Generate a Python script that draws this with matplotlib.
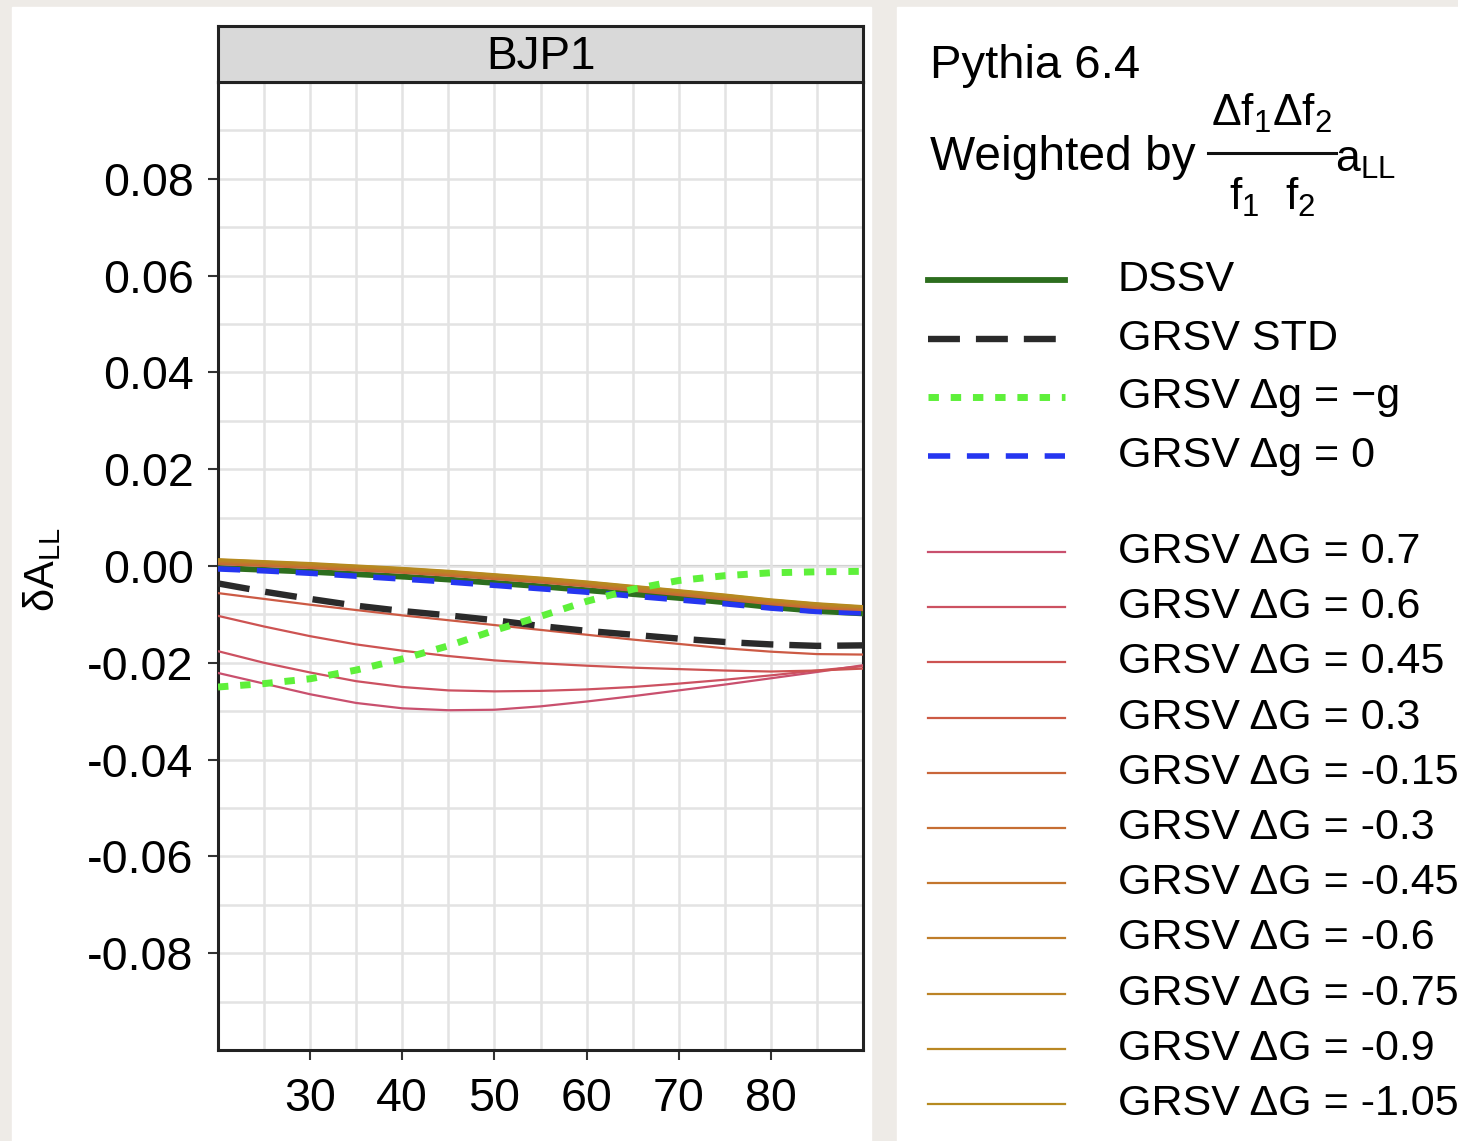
import numpy as np
import matplotlib
matplotlib.use("Agg")
import matplotlib.pyplot as plt
from matplotlib.patches import Rectangle

plt.rcParams['font.family'] = ['Liberation Sans', 'DejaVu Sans']
plt.rcParams['mathtext.fontset'] = 'custom'
plt.rcParams['mathtext.rm'] = 'Liberation Sans'
plt.rcParams['mathtext.it'] = 'Liberation Sans'
plt.rcParams['mathtext.default'] = 'regular'
plt.rcParams['axes.unicode_minus'] = False

# pT grid (GeV)
pt = [20, 25, 30, 35, 40, 45, 50, 55, 60, 65, 70, 75, 80, 85, 90]

dssv = [-0.0004, -0.0008, -0.0012, -0.0017, -0.0022, -0.0028, -0.0035, -0.0042,
        -0.0050, -0.0058, -0.0066, -0.0075, -0.0085, -0.0093, -0.0098]
grsv_std = [-0.0036, -0.0053, -0.0068, -0.0082, -0.0093, -0.0102, -0.0112, -0.0124,
            -0.0134, -0.0142, -0.0150, -0.0157, -0.0162, -0.0165, -0.0164]
grsv_mg = [-0.0250, -0.0243, -0.0233, -0.0215, -0.0192, -0.0165, -0.0133, -0.0104,
           -0.0073, -0.0048, -0.0030, -0.0020, -0.0014, -0.0012, -0.0011]
grsv_g0 = [-0.0006, -0.0010, -0.0015, -0.0021, -0.0027, -0.0033, -0.0040, -0.0047,
           -0.0054, -0.0062, -0.0070, -0.0078, -0.0087, -0.0094, -0.0097]

dG_labels = ['0.7', '0.6', '0.45', '0.3', '-0.15', '-0.3', '-0.45', '-0.6',
             '-0.75', '-0.9', '-1.05']
dG_values = [
    [-0.0221, -0.0243, -0.0265, -0.0283, -0.0294, -0.0298, -0.0297, -0.0290,
     -0.0280, -0.0269, -0.0257, -0.0245, -0.0232, -0.0219, -0.0205],
    [-0.0176, -0.0200, -0.0220, -0.0238, -0.0250, -0.0257, -0.0259, -0.0258,
     -0.0255, -0.0250, -0.0243, -0.0235, -0.0226, -0.0216, -0.0207],
    [-0.0103, -0.0125, -0.0145, -0.0162, -0.0175, -0.0186, -0.0195, -0.0201,
     -0.0206, -0.0210, -0.0213, -0.0216, -0.0218, -0.0216, -0.0212],
    [-0.0056, -0.0068, -0.0080, -0.0091, -0.0102, -0.0112, -0.0122, -0.0132,
     -0.0142, -0.0152, -0.0161, -0.0170, -0.0177, -0.0182, -0.0183],
    [0.0004, 0.0000, -0.0004, -0.0009, -0.0014, -0.0020, -0.0027, -0.0034,
     -0.0042, -0.0051, -0.0060, -0.0069, -0.0079, -0.0087, -0.0091],
    [0.0006, 0.0002, -0.0002, -0.0007, -0.0012, -0.0018, -0.0025, -0.0032,
     -0.0040, -0.0049, -0.0058, -0.0067, -0.0077, -0.0085, -0.0089],
    [0.0008, 0.0004, 0.0000, -0.0005, -0.0010, -0.0016, -0.0023, -0.0030,
     -0.0038, -0.0047, -0.0056, -0.0065, -0.0075, -0.0083, -0.0088],
    [0.0010, 0.0006, 0.0002, -0.0003, -0.0008, -0.0014, -0.0021, -0.0028,
     -0.0036, -0.0045, -0.0054, -0.0063, -0.0073, -0.0081, -0.0086],
    [0.0011, 0.0007, 0.0003, -0.0002, -0.0007, -0.0013, -0.0020, -0.0027,
     -0.0035, -0.0044, -0.0053, -0.0062, -0.0072, -0.0080, -0.0085],
    [0.0013, 0.0009, 0.0005, 0.0000, -0.0005, -0.0011, -0.0018, -0.0025,
     -0.0033, -0.0042, -0.0051, -0.0060, -0.0070, -0.0078, -0.0084],
    [0.0014, 0.0010, 0.0006, 0.0001, -0.0004, -0.0010, -0.0017, -0.0024,
     -0.0032, -0.0041, -0.0050, -0.0059, -0.0069, -0.0077, -0.0083],
]
dG_colors = ['#c9506e', '#cc5161', '#cd5352', '#cc5a44', '#c9663a', '#c66e33',
             '#c3762d', '#bf7d29', '#bc8326', '#b98723', '#b68a20']

W, H = 1458, 1141
fig = plt.figure(figsize=(W / 100, H / 100), dpi=100, facecolor='#eeebe7')

# white panels of the screenshot
fig.patches.append(Rectangle((12 / W, 0), (871 - 12) / W, (H - 7) / H,
                             transform=fig.transFigure, color='white', zorder=-1))
fig.patches.append(Rectangle((897 / W, 0), (W - 897) / W, (H - 7) / H,
                             transform=fig.transFigure, color='white', zorder=-1))

ax = fig.add_axes([218 / W, (H - 1050) / H, (863 - 218) / W, (1050 - 82) / H])
ax.set_xlim(20, 90)
ax.set_ylim(-0.1, 0.1)
ax.set_xticks([30, 40, 50, 60, 70, 80])
ax.set_xticks([25, 35, 45, 55, 65, 75, 85], minor=True)
ax.set_yticks([-0.08, -0.06, -0.04, -0.02, 0.0, 0.02, 0.04, 0.06, 0.08])
ax.set_yticks(np.arange(-0.09, 0.1, 0.02), minor=True)
ax.set_yticklabels(['%.2f' % v for v in ax.get_yticks()])
ax.grid(True, which='both', color='#e3e3e3', lw=1.8, zorder=0)
ax.tick_params(which='major', length=7.5, width=1.5, color='#333333',
               labelsize=33.5, pad=12)
ax.tick_params(axis='y', pad=10)
ax.tick_params(which='minor', length=0)
for s in ax.spines.values():
    s.set_linewidth(2.2)
    s.set_color('#222222')
ax.axhline(0, color='#a0a0a0', lw=1.5, zorder=1)

ax.plot(pt, dssv, color='#2d6e1e', lw=4.2, zorder=3)
ax.plot(pt, grsv_g0, color='#2536f0', lw=4.0, dashes=(4, 3), zorder=3)
for vals, c in zip(dG_values, dG_colors):
    ax.plot(pt, vals, color=c, lw=1.6, zorder=4)
ax.plot(pt, grsv_std, color='#2a2a2a', lw=4.6, dashes=(5, 2.5), zorder=5)
ax.plot(pt, grsv_mg, color='#5ef03a', lw=5.0, dashes=(1.5, 1.7), zorder=5)

# facet strip
sax = fig.add_axes([218 / W, (H - 82) / H, (863 - 218) / W, (82 - 26) / H])
sax.set_facecolor('#d9d9d9')
sax.set_xticks([])
sax.set_yticks([])
for s in sax.spines.values():
    s.set_linewidth(2.2)
    s.set_color('#222222')
sax.text(0.5, 0.45, 'BJP1', ha='center', va='center', fontsize=33,
         transform=sax.transAxes)

fig.text(42 / W, (H - 570) / H, r'$\delta A_{LL}$', rotation=90,
         ha='center', va='center', fontsize=30)

# legend panel drawn in pixel space
lax = fig.add_axes([0, 0, 1, 1], zorder=10)
lax.set_xlim(0, W)
lax.set_ylim(H, 0)
lax.axis('off')
lax.text(930, 78, 'Pythia 6.4', fontsize=34, va='baseline')
lax.text(930, 170, 'Weighted by', fontsize=34.5, va='baseline')
lax.text(1272, 126, r'$\Delta f_1\Delta f_2$', fontsize=32, ha='center', va='baseline')
lax.plot([1208, 1336], [153, 153], color='#111111', lw=2.2)
lax.text(1272, 210, r'$f_1\ \ f_2$', fontsize=32, ha='center', va='baseline')
lax.text(1335, 172, r'$a_{LL}$', fontsize=32, va='baseline')

first = [('DSSV', dict(color='#2d6e1e', lw=4.2)),
         ('GRSV STD', dict(color='#2a2a2a', lw=4.6, dashes=(5, 2.5))),
         ('GRSV \u0394g = \u2212g', dict(color='#5ef03a', lw=5.0, dashes=(1.5, 1.7))),
         ('GRSV \u0394g = 0', dict(color='#2536f0', lw=4.0, dashes=(4, 3)))]
for i, (lab, st) in enumerate(first):
    y = 280 + i * 58.5
    lax.plot([928, 1065], [y, y], **st)
    lax.text(1118, y, lab, fontsize=31, va='center')
for i, (lab, c) in enumerate(zip(dG_labels, dG_colors)):
    y = 552 + i * 55.2
    lax.plot([928, 1065], [y, y], color=c, lw=1.6)
    lax.text(1118, y, 'GRSV \u0394G = ' + lab, fontsize=31, va='center')

fig.savefig('out.png', dpi=100, facecolor=fig.get_facecolor())
